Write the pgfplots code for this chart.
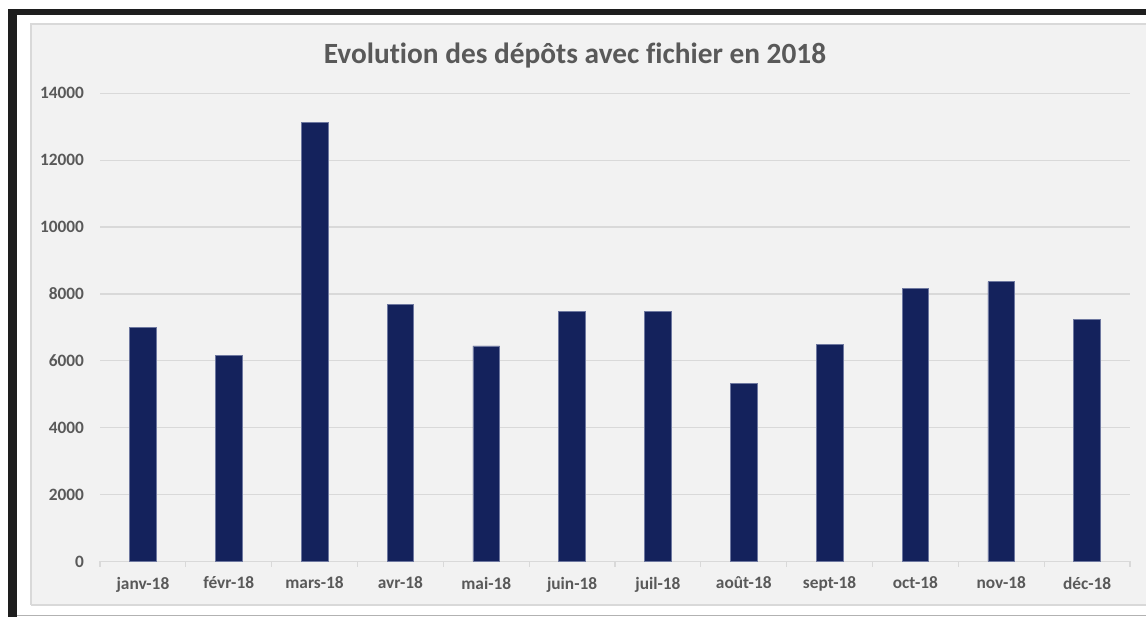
\documentclass[border=0pt]{standalone}
\usepackage{pgfplots}
\pgfplotsset{compat=1.18}
\usepackage{fontspec}
\setmainfont{Carlito}[Ligatures={NoCommon}]
\definecolor{navy}{RGB}{20,34,92}
\definecolor{navyedge}{RGB}{110,120,160}
\definecolor{txt}{RGB}{89,89,89}
\definecolor{gridc}{RGB}{217,217,217}
\definecolor{areabg}{RGB}{242,242,242}
\definecolor{frame}{RGB}{30,30,30}
\begin{document}
\begin{tikzpicture}[x=0.75pt,y=0.75pt]
\useasboundingbox (0,0) rectangle (1146,617);
\fill[white] (0,0) rectangle (1146,617);
\fill[frame] (8,602) rectangle (1146,608);
\fill[frame] (8,0) rectangle (17,608);
\fill[areabg] (31,12) rectangle (1150,593);
\draw[gridc, line width=0.9pt] (31,12) -- (31,593) -- (1150,593);
\draw[gridc, line width=0.9pt] (31,12) -- (1150,12);
\draw[gray!60, line width=0.8pt] (17,1.3) -- (1146,1.3);
\begin{axis}[
  at={(75pt,41.625pt)}, anchor=south west,
  scale only axis, width=772.5pt, height=351.15pt,
  ybar, bar width=20pt,
  xmin=-0.5, xmax=11.5, ymin=0, ymax=14000,
  xtick={0,...,11},
  xticklabels={janv-18,févr-18,mars-18,avr-18,mai-18,juin-18,juil-18,août-18,sept-18,oct-18,nov-18,déc-18},
  minor xtick={-0.5,0.5,...,11.5},
  ytick={0,2000,...,14000},
  scaled y ticks=false,
  major tick length=0pt,
  minor tick length=4pt,
  tick align=outside,
  minor tick style={gridc, line width=0.9pt},
  axis lines*=left,
  y axis line style={draw=none},
  x axis line style={gridc, line width=0.9pt},
  ymajorgrids, major grid style={gridc, line width=0.9pt},
  /pgf/number format/1000 sep={},
  /pgf/number format/assume math mode=true,
  tick label style={font=\bfseries\fontsize{13}{15}\selectfont, text=txt},
  yticklabel style={xshift=-8.5pt},
  xticklabel style={yshift=-8pt},
  clip=false,
]
\addplot[fill=navy, draw=navyedge, line width=0.4pt] coordinates {
(0,7000) (1,6160) (2,13130) (3,7690) (4,6450) (5,7480) (6,7480) (7,5330) (8,6500) (9,8170) (10,8370) (11,7240)
};
\end{axis}
\node[text=txt, font=\bfseries\fontsize{22}{26}\selectfont] at (575,561) {Evolution des dépôts avec fichier en 2018};
\end{tikzpicture}
\end{document}
